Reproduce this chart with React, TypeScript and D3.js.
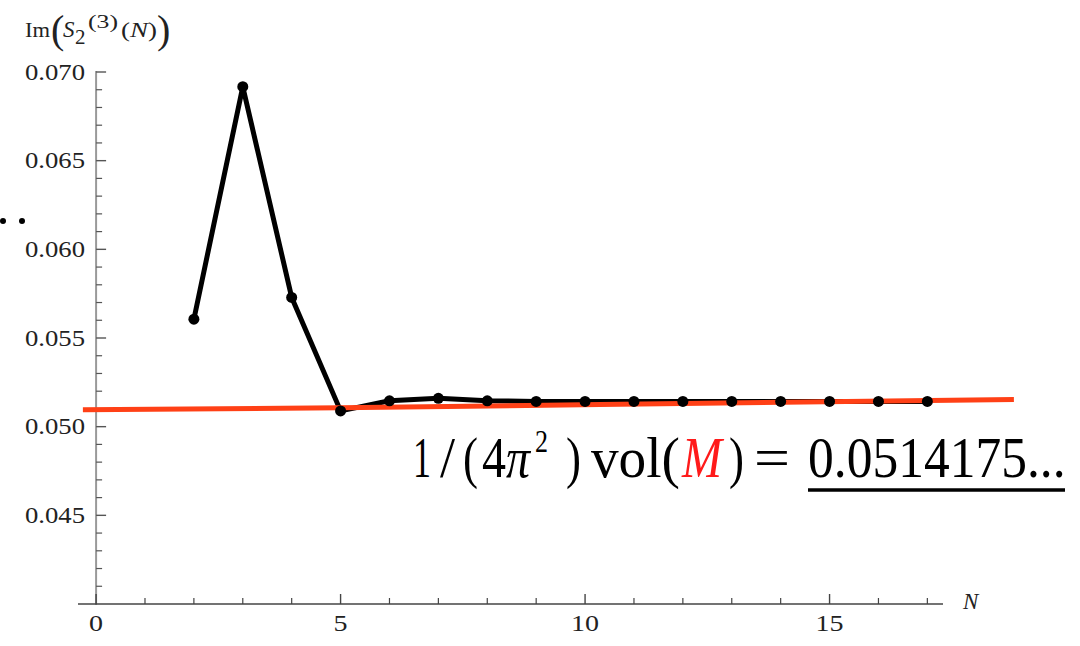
import React from 'react';
import * as d3 from 'd3';

// values
const nValues = [2, 3, 4, 5, 6, 7, 8, 9, 10, 11, 12, 13, 14, 15, 16, 17];
const imValues = [
  0.05606, 0.06917, 0.05729, 0.05089, 0.05146, 0.0516, 0.05146, 0.05142,
  0.05142, 0.05142, 0.05142, 0.05142, 0.05142, 0.05142, 0.05142, 0.05142,
];
// red overlay (fit towards the volume)
const redN = [-0.27, 5, 10.3, 18.77];
const redValues = [0.05096, 0.05106, 0.05125, 0.05153];

const xMajor = [0, 5, 10, 15];
const xMinor = d3.range(1, 18).filter((v) => v % 5 !== 0);
const yMajor = [0.045, 0.05, 0.055, 0.06, 0.065, 0.07];

const serif = "'Liberation Serif', 'DejaVu Serif', serif";

// pieces of the annotation: text, left x, width, baseline shift, size
const notePieces: [string, number, number, number, number][] = [
  ['1', 413, 18, 0, 56],
  ['/', 440, 15, 0, 56],
  ['(', 463, 15, 0, 56],
  ['4', 482, 24, 0, 56],
  ['π', 506, 24, 0, 56],
  ['2', 535, 13, -25, 32],
  [')', 566, 15, 0, 56],
  ['vol(', 591, 89, 0, 56],
  ['M', 682, 40, 0, 56],
  [')', 729, 15, 0, 56],
  ['=', 754, 36, 0, 56],
];
const limitText = '0.0514175...';

export default function App() {
  const width = 1080;
  const height = 646;

  const xScale = d3.scaleLinear().domain([-0.37, 17.32]).range([78, 943]);
  const yScale = d3.scaleLinear().domain([0.04, 0.07]).range([604, 72]);

  const x0 = xScale(0);
  const yBase = yScale(0.04);

  const pts: [number, number][] = nValues.map((n, i) => [n, imValues[i]]);
  const redPts: [number, number][] = redN.map((n, i) => [n, redValues[i]]);

  const line = d3
    .line<[number, number]>()
    .x((d) => xScale(d[0]))
    .y((d) => yScale(d[1]));

  const yMinorTicks = d3.range(41, 70)
    .map((v) => v / 1000)
    .filter((v) => !yMajor.some((m) => Math.abs(m - v) < 1e-6));

  return (
    <svg
      width={width}
      height={height}
      style={{ position: 'absolute', left: 0, top: 0, background: '#fff', fontFamily: serif }}
    >
      {/* stray dots at the left edge */}
      <circle cx={3} cy={221} r={3} fill="#000" />
      <circle cx={22} cy={221} r={3} fill="#000" />

      {/* y axis */}
      <line x1={x0} x2={x0} y1={yBase + 1} y2={yScale(0.07) - 1} stroke="#999" strokeWidth={2} />
      {yMinorTicks.map((v) => (
        <line key={`ym${v}`} x1={x0} x2={x0 + 6} y1={yScale(v)} y2={yScale(v)} stroke="#555" strokeWidth={1.2} />
      ))}
      {yMajor.map((v) => (
        <g key={`y${v}`}>
          <line x1={x0} x2={x0 + 10} y1={yScale(v)} y2={yScale(v)} stroke="#555" strokeWidth={1.4} />
          <text
            x={25}
            y={yScale(v) + 7.5}
            fontSize={24}
            fill="#222"
            textLength={60}
            lengthAdjust="spacingAndGlyphs"
          >
            {d3.format('.3f')(v)}
          </text>
        </g>
      ))}

      {/* x axis */}
      <line x1={xScale(-0.37)} x2={xScale(17.32)} y1={yBase} y2={yBase} stroke="#444" strokeWidth={1.5} />
      {xMinor.map((v) => (
        <line key={`xm${v}`} x1={xScale(v)} x2={xScale(v)} y1={yBase} y2={yBase - 6} stroke="#444" strokeWidth={1.2} />
      ))}
      {xMajor.map((v) => {
        const w = String(v).length * 14;
        return (
          <g key={`x${v}`}>
            <line x1={xScale(v)} x2={xScale(v)} y1={yBase} y2={yBase - 10} stroke="#444" strokeWidth={1.4} />
            <text
              x={xScale(v) - w / 2}
              y={631}
              fontSize={24}
              fill="#222"
              textLength={w}
              lengthAdjust="spacingAndGlyphs"
            >
              {v}
            </text>
          </g>
        );
      })}
      <text x={963} y={609} fontSize={23} fontStyle="italic" fill="#222">N</text>

      {/* y label */}
      <g fill="#222">
        <text x={25} y={37} fontSize={20} textLength={25} lengthAdjust="spacingAndGlyphs">Im</text>
        <text x={51} y={43} fontSize={40}>(</text>
        <text x={63} y={37} fontSize={23} fontStyle="italic">S</text>
        <text x={75} y={44} fontSize={21}>2</text>
        <text x={88} y={28} fontSize={18} textLength={30} lengthAdjust="spacingAndGlyphs">(3)</text>
        <text x={121} y={37} fontSize={20} textLength={36} lengthAdjust="spacingAndGlyphs">
          (<tspan fontStyle="italic">N</tspan>)
        </text>
        <text x={157} y={43} fontSize={40}>)</text>
      </g>

      {/* series */}
      <path d={line(pts) ?? ''} fill="none" stroke="#000" strokeWidth={5} strokeLinejoin="round" />
      <path d={line(redPts) ?? ''} fill="none" stroke="#ff4016" strokeWidth={5} />
      {pts.map((d) => (
        <circle key={d[0]} cx={xScale(d[0])} cy={yScale(d[1])} r={5.5} fill="#000" />
      ))}

      {/* annotation */}
      <g fill="#000">
        {notePieces.map(([t, x, w, dy, fs], i) => (
          <text
            key={i}
            x={x}
            y={477 + dy}
            fontSize={fs}
            fontStyle={t === 'π' || t === 'M' ? 'italic' : 'normal'}
            fill={t === 'M' ? '#ff1a1a' : '#000'}
            textLength={w}
            lengthAdjust="spacingAndGlyphs"
          >
            {t}
          </text>
        ))}
        <text x={0} y={0} fontSize={56} transform="translate(808,477) scale(0.92,1)">
          {limitText}
        </text>
      </g>
      <line x1={808} x2={1065} y1={490} y2={490} stroke="#000" strokeWidth={3.5} />
    </svg>
  );
}
